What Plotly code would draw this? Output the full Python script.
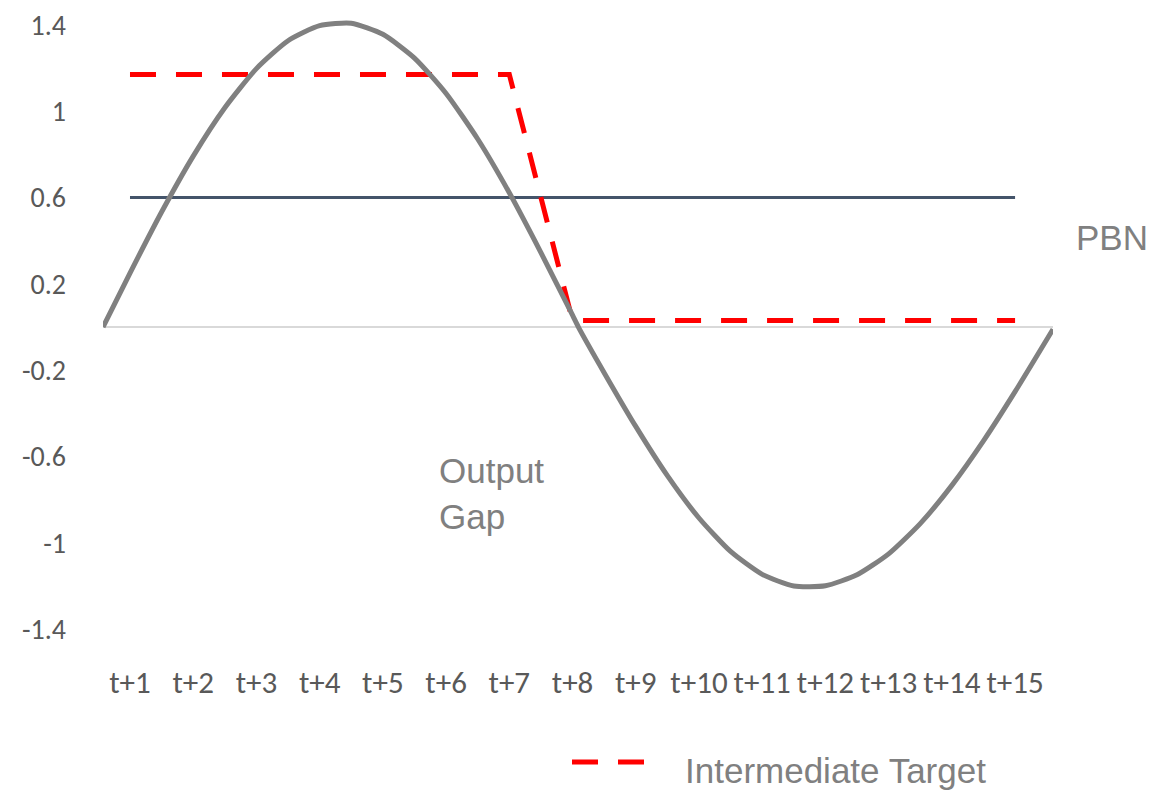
import plotly.graph_objects as go

# ---------------- data ----------------
categories = [f"t+{i}" for i in range(1, 16)]
cat_pos = list(range(1, 16))

intermediate_target = [1.17, 1.17, 1.17, 1.17, 1.17, 1.17, 1.17,
                       0.03, 0.03, 0.03, 0.03, 0.03, 0.03, 0.03, 0.03]
pbn = [0.6] * 15

gap_x = [0.573, 1.0, 1.5, 2.0, 2.5, 3.0, 3.5, 4.0, 4.5, 5.0, 5.5, 6.0, 6.5, 7.0, 7.5, 8.0,
         8.093, 8.5, 9.0, 9.5, 10.0, 10.5, 11.0, 11.5, 12.0, 12.5, 13.0, 13.5, 14.0, 14.5, 15.0, 15.6]
gap_y = [0.0, 0.250, 0.533, 0.792, 1.016, 1.197, 1.326, 1.396, 1.407, 1.356, 1.246, 1.082, 0.871, 0.622, 0.345, 0.055,
         0.0, -0.211, -0.460, -0.688, -0.884, -1.039, -1.145, -1.199, -1.198, -1.147, -1.050, -0.910, -0.733, -0.527, -0.299, -0.010]

y_ticks = [1.4, 1.0, 0.6, 0.2, -0.2, -0.6, -1.0, -1.4]
y_ticktext = ["1.4", "1", "0.6", "0.2", "-0.2", "-0.6", "-1", "-1.4"]

# ---------------- layout helpers ----------------
# the page body has an 8px margin, so the figure is drawn offset by 8px
OFF = 8
PAGE_W, PAGE_H = 1154, 795
W, H = PAGE_W - OFF, PAGE_H - OFF
# plot area in page pixels
L, R, T, B = 103, 1053, 14, 651


def px(x, y):
    return (x - L) / (R - L), (B - y) / (B - T)


TICK_FONT = "Carlito, Lato, sans-serif"
LABEL_FONT = "Liberation Sans Narrow, Arial Narrow, Liberation Sans, Arial, sans-serif"

fig = go.Figure()

fig.add_trace(go.Scatter(x=cat_pos, y=pbn, mode="lines", name="PBN",
                         line=dict(color="#44546A", width=3), showlegend=False))
fig.add_trace(go.Scatter(x=cat_pos, y=intermediate_target, mode="lines", name="Intermediate Target",
                         line=dict(color="#FF0000", width=5, dash="26px,20px"), showlegend=False))
fig.add_trace(go.Scatter(x=gap_x, y=gap_y, mode="lines", name="Output Gap",
                         line=dict(color="#808080", width=5, shape="spline", smoothing=0.6),
                         showlegend=False))

fig.update_layout(
    width=W, height=H,
    margin=dict(l=L - OFF, r=PAGE_W - R, t=T - OFF, b=PAGE_H - B),
    paper_bgcolor="white", plot_bgcolor="white",
    xaxis=dict(range=[0.573, 15.6], tickvals=cat_pos, ticktext=categories,
               showgrid=False, zeroline=False, showline=False, ticks="",
               tickangle=0, ticklabeloverflow="allow", automargin=False,
               tickfont=dict(family=TICK_FONT, size=31, color="#595959"),
               ticklabelstandoff=10),
    yaxis=dict(range=[-1.5, 1.45], tickvals=y_ticks, ticktext=y_ticktext,
               showgrid=False, zeroline=True, zerolinecolor="#D9D9D9", zerolinewidth=2,
               showline=False, ticks="", ticklabeloverflow="allow", automargin=False,
               tickfont=dict(family=TICK_FONT, size=28, color="#595959"),
               ticklabelstandoff=36),
)

# text labels for series
labels = [
    ("PBN", (1150, 238), "right"),
    ("Output<br>Gap", (437, 493), "left"),
    ("Intermediate Target", (683, 771), "left"),
]
for text, (x, y), anchor in labels:
    xp, yp = px(x, y)
    fig.add_annotation(text=text, x=xp, y=yp, xref="paper", yref="paper",
                       xanchor=anchor, yanchor="middle", showarrow=False, align="left",
                       font=dict(family=LABEL_FONT, size=35, color="#808080"))

# legend sample for the red dashed line
x0, y0 = px(572, 762)
x1, _ = px(647, 762)
fig.add_shape(type="line", xref="paper", yref="paper", x0=x0, x1=x1, y0=y0, y1=y0,
              line=dict(color="#FF0000", width=5, dash="26px,20px"))

fig.write_html("out.html")
